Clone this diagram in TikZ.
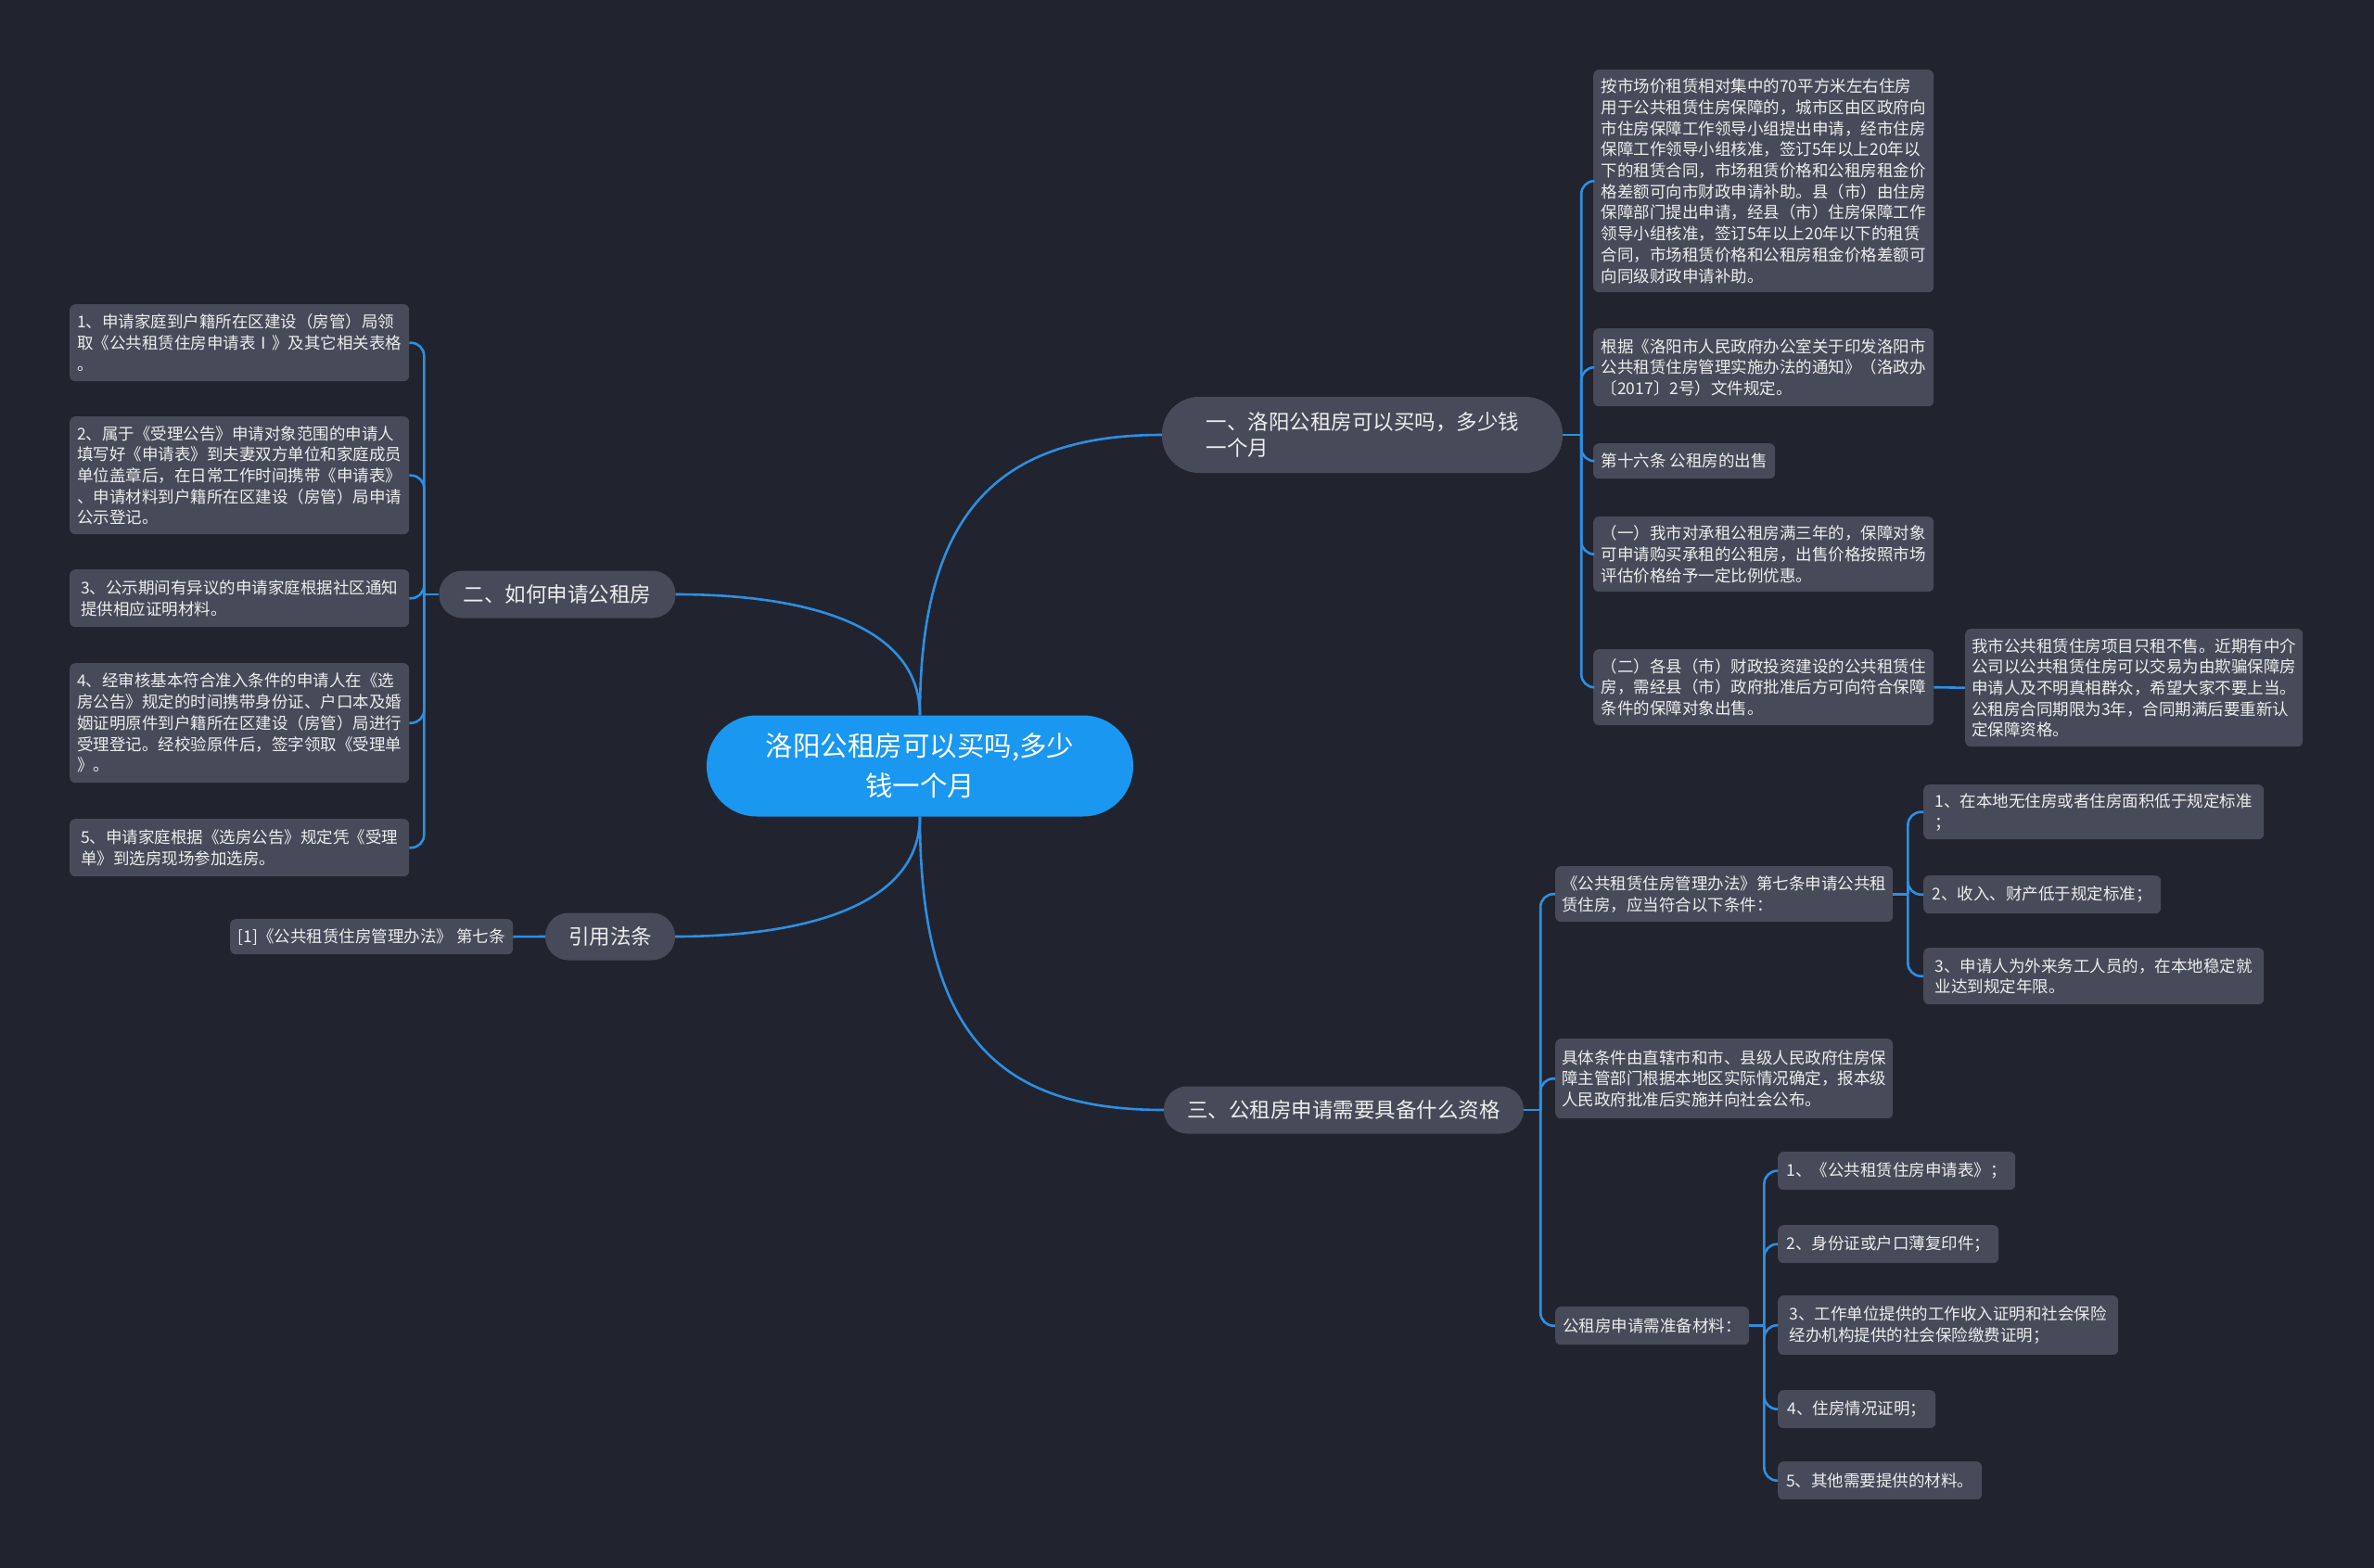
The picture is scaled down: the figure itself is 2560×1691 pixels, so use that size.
\documentclass[tikz,border=0pt]{standalone}
\usepackage{fontspec}
\setmainfont{Noto Sans CJK SC}
\definecolor{bgc}{HTML}{21242E}
\definecolor{boxc}{HTML}{474B59}
\definecolor{rootc}{HTML}{1A97F0}
\definecolor{linec}{HTML}{2D8FE3}
\definecolor{txtc}{HTML}{EDEDED}
\tikzset{
  conn/.style={draw=linec, line width=2.6pt, rounded corners=14pt},
  rootbox/.style={fill=rootc, text=white, rounded corners=54pt, align=center,
    font=\fontsize{29.5}{43}\selectfont, minimum width=460pt, minimum height=109pt, inner sep=0pt},
  branch/.style={fill=boxc, text=txtc, rounded corners=25pt, align=center,
    font=\fontsize{22.5}{28}\selectfont, minimum height=51pt, inner sep=0pt},
  leaf/.style={fill=boxc, text=txtc, rounded corners=6pt, align=left,
    font=\fontsize{17.5}{22.7}\selectfont, inner sep=0pt, anchor=north west}
}
\begin{document}
\begin{tikzpicture}[x=1pt,y=-1pt]
\fill[bgc] (0,0) rectangle (2560,1691);
\useasboundingbox (0,0) rectangle (2560,1691);

% root
\node[rootbox] (root) at (992,826) {洛阳公租房可以买吗,多少\\钱一个月};

% branches
\node[branch, minimum width=432pt, minimum height=82pt, rounded corners=40pt, align=left] (b1) at (1469,469)
  {\makebox[337pt][l]{一、洛阳公租房可以买吗，多少钱}\\\makebox[337pt][l]{一个月}};
\node[branch, minimum width=255pt] (b2) at (601,641) {二、如何申请公租房};
\node[branch, minimum width=140pt] (b4) at (658,1010) {引用法条};
\node[branch, minimum width=388pt] (b3) at (1449,1197) {三、公租房申请需要具备什么资格};

% root connectors
\draw[conn] (root.north) .. controls (992,560) and (1070,469) .. (b1.west);
\draw[conn] (root.north) .. controls (992,670) and (860,641) .. (b2.east);
\draw[conn] (root.south) .. controls (992,980) and (860,1010) .. (b4.east);
\draw[conn] (root.south) .. controls (992,1120) and (1080,1197) .. (b3.west);

% branch 1 leaves
\node[leaf, minimum width=367pt, minimum height=240pt] (l1) at (1718,75) {按市场价租赁相对集中的70平方米左右住房\\用于公共租赁住房保障的，城市区由区政府向\\市住房保障工作领导小组提出申请，经市住房\\保障工作领导小组核准，签订5年以上20年以\\下的租赁合同，市场租赁价格和公租房租金价\\格差额可向市财政申请补助。县（市）由住房\\保障部门提出申请，经县（市）住房保障工作\\领导小组核准，签订5年以上20年以下的租赁\\合同，市场租赁价格和公租房租金价格差额可\\向同级财政申请补助。};
\node[leaf, minimum width=367pt, minimum height=84pt] (l2) at (1718,354) {根据《洛阳市人民政府办公室关于印发洛阳市\\公共租赁住房管理实施办法的通知》（洛政办\\〔2017〕2号）文件规定。};
\node[leaf, minimum width=196pt, minimum height=38pt] (l3) at (1718,478) {第十六条 公租房的出售};
\node[leaf, minimum width=367pt, minimum height=81pt] (l4) at (1718,557) {（一）我市对承租公租房满三年的，保障对象\\可申请购买承租的公租房，出售价格按照市场\\评估价格给予一定比例优惠。};
\node[leaf, minimum width=367pt, minimum height=82pt] (l5) at (1718,700) {（二）各县（市）财政投资建设的公共租赁住\\房，需经县（市）政府批准后方可向符合保障\\条件的保障对象出售。};
\node[leaf, minimum width=364pt, minimum height=127pt] (l6) at (2119,678) {我市公共租赁住房项目只租不售。近期有中介\\公司以公共租赁住房可以交易为由欺骗保障房\\申请人及不明真相群众，希望大家不要上当。\\公租房合同期限为3年，合同期满后要重新认\\定保障资格。};

\path (b1.east) ++(20,0) coordinate (s1);
\draw[conn] (b1.east) -- (s1);
\foreach \n in {l1,l2,l3,l4,l5} \draw[conn] (s1) |- (\n.west);
\draw[conn] (l5.east) -- (l6.west);

% branch 2 leaves
\node[leaf, minimum width=366pt, minimum height=83pt] (a1) at (75,328) {1、申请家庭到户籍所在区建设（房管）局领\\取《公共租赁住房申请表Ⅰ》及其它相关表格\\。};
\node[leaf, minimum width=366pt, minimum height=127pt] (a2) at (75,449) {2、属于《受理公告》申请对象范围的申请人\\填写好《申请表》到夫妻双方单位和家庭成员\\单位盖章后，在日常工作时间携带《申请表》\\、申请材料到户籍所在区建设（房管）局申请\\公示登记。};
\node[leaf, minimum width=366pt, minimum height=62pt] (a3) at (75,614) {3、公示期间有异议的申请家庭根据社区通知\\提供相应证明材料。};
\node[leaf, minimum width=366pt, minimum height=129pt] (a4) at (75,715) {4、经审核基本符合准入条件的申请人在《选\\房公告》规定的时间携带身份证、户口本及婚\\姻证明原件到户籍所在区建设（房管）局进行\\受理登记。经校验原件后，签字领取《受理单\\》。};
\node[leaf, minimum width=366pt, minimum height=62pt] (a5) at (75,883) {5、申请家庭根据《选房公告》规定凭《受理\\单》到选房现场参加选房。};

\path (b2.west) ++(-16,0) coordinate (s2);
\draw[conn] (b2.west) -- (s2);
\foreach \n in {a1,a2,a3,a4,a5} \draw[conn] (s2) |- (\n.east);

% citation
\node[leaf, minimum width=305pt, minimum height=38pt] (r1) at (248,991) {[1]《公共租赁住房管理办法》 第七条};
\draw[conn] (b4.west) -- (r1.east);

% branch 3 leaves
\node[leaf, minimum width=364pt, minimum height=60pt] (c1) at (1677,934) {《公共租赁住房管理办法》第七条申请公共租\\赁住房，应当符合以下条件：};
\node[leaf, minimum width=364pt, minimum height=86pt] (c2) at (1677,1120) {具体条件由直辖市和市、县级人民政府住房保\\障主管部门根据本地区实际情况确定，报本级\\人民政府批准后实施并向社会公布。};
\node[leaf, minimum width=209pt, minimum height=41pt] (c3) at (1677,1409) {公租房申请需准备材料：};

\path (b3.east) ++(18,0) coordinate (s3);
\draw[conn] (b3.east) -- (s3);
\foreach \n in {c1,c2,c3} \draw[conn] (s3) |- (\n.west);

% conditions
\node[leaf, minimum width=367pt, minimum height=59pt] (d1) at (2074,846) {1、在本地无住房或者住房面积低于规定标准\\；};
\node[leaf, minimum width=256pt, minimum height=41pt] (d2) at (2074,944) {2、收入、财产低于规定标准；};
\node[leaf, minimum width=367pt, minimum height=61pt] (d3) at (2074,1022) {3、申请人为外来务工人员的，在本地稳定就\\业达到规定年限。};

\path (c1.east) ++(16,0) coordinate (s4);
\draw[conn] (c1.east) -- (s4);
\foreach \n in {d1,d2,d3} \draw[conn] (s4) |- (\n.west);

% materials
\node[leaf, minimum width=256pt, minimum height=41pt] (m1) at (1917,1242) {1、《公共租赁住房申请表》；};
\node[leaf, minimum width=238pt, minimum height=41pt] (m2) at (1917,1321) {2、身份证或户口薄复印件；};
\node[leaf, minimum width=367pt, minimum height=64pt] (m3) at (1917,1397) {3、工作单位提供的工作收入证明和社会保险\\经办机构提供的社会保险缴费证明；};
\node[leaf, minimum width=170pt, minimum height=41pt] (m4) at (1917,1499) {4、住房情况证明；};
\node[leaf, minimum width=220pt, minimum height=41pt] (m5) at (1917,1576) {5、其他需要提供的材料。};

\path (c3.east) ++(16,0) coordinate (s5);
\draw[conn] (c3.east) -- (s5);
\foreach \n in {m1,m2,m3,m4,m5} \draw[conn] (s5) |- (\n.west);
\end{tikzpicture}
\end{document}
